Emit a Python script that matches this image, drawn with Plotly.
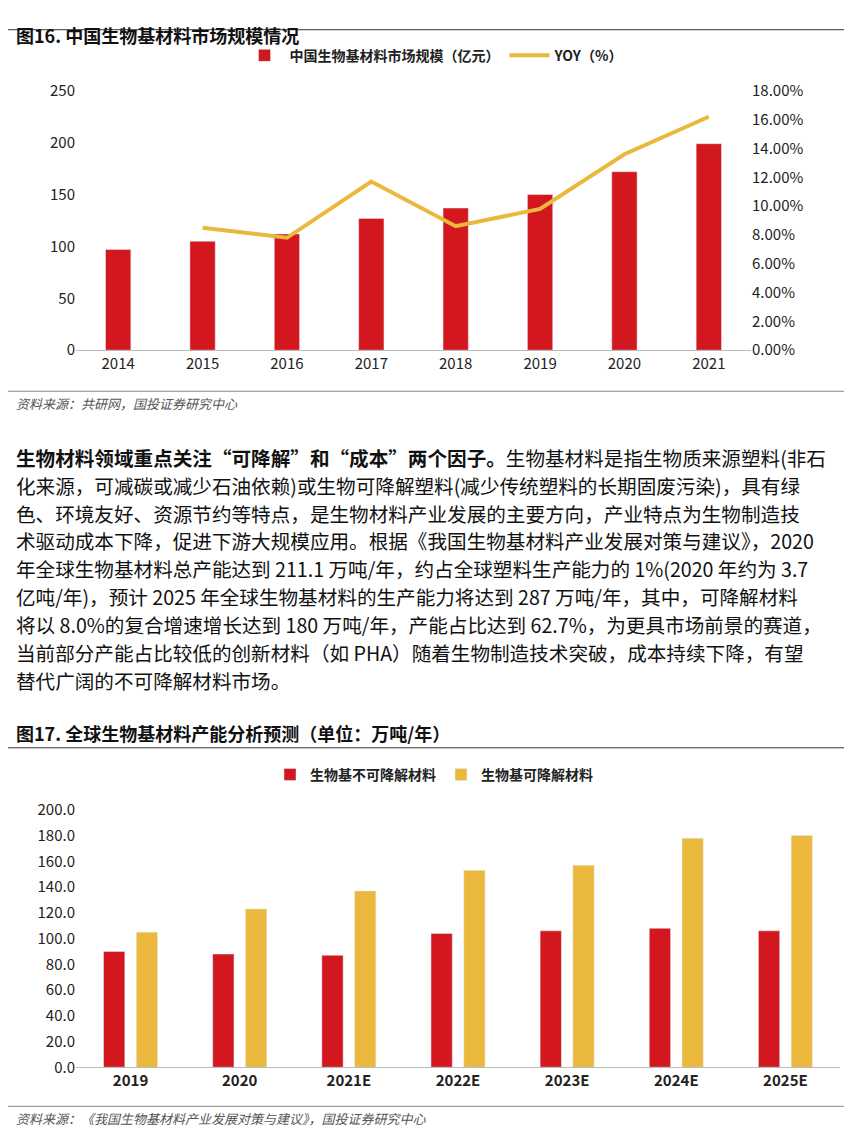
import plotly.graph_objects as go

years1 = ["2014","2015","2016","2017","2018","2019","2020","2021"]
market = [97, 105, 112, 127, 137, 150, 172, 199]
yoy_years = ["2015","2016","2017","2018","2019","2020","2021"]
yoy = [0.085, 0.078, 0.117, 0.086, 0.098, 0.136, 0.162]

years2 = ["2019","2020","2021E","2022E","2023E","2024E","2025E"]
non_deg = [90, 88, 87, 104, 106, 108, 106]
deg = [105, 123, 137, 153, 157, 178, 180]

RED = "#D2171E"
GOLD = "#E9B83C"
FONT = "Noto Sans CJK SC"
W, H = 852, 1133
def py(p):
    p2 = (p - 21.3) / 0.98
    return 1 - p2 / H
def px(p): return p / W

fig = go.Figure()
fig.add_bar(x=years1, y=market, name="中国生物基材料市场规模（亿元）", marker_color=RED,
            width=0.3, xaxis="x", yaxis="y", legend="legend")
fig.add_scatter(x=yoy_years, y=yoy, name="YOY（%）", mode="lines", line=dict(color=GOLD, width=4),
                xaxis="x", yaxis="y2", legend="legend")
fig.add_bar(x=years2, y=non_deg, name="生物基不可降解材料", marker_color=RED,
            xaxis="x3", yaxis="y3", legend="legend2")
fig.add_bar(x=years2, y=deg, name="生物基可降解材料", marker_color=GOLD,
            xaxis="x3", yaxis="y3", legend="legend2")

tf = dict(family=FONT, size=15, color="#222")
fig.update_layout(
    width=W, height=H, margin=dict(l=0, r=0, t=0, b=0),
    plot_bgcolor="white", paper_bgcolor="white", font=tf,
    bargap=0.4, bargroupgap=0.35, barmode="group",
    xaxis=dict(domain=[px(68), px(743)], anchor="y", showline=True, linecolor="#bbb",
               ticks="", tickfont=tf),
    yaxis=dict(domain=[py(351), py(92)], range=[0, 250], dtick=50, showgrid=False,
               zeroline=False, tickfont=tf),
    yaxis2=dict(overlaying="y", side="right", anchor="x", range=[0, 0.18], dtick=0.02,
                tickformat=".2%", showgrid=False, zeroline=False, tickfont=tf),
    xaxis3=dict(domain=[px(68), px(832)], anchor="y3", showline=True, linecolor="#bbb",
                ticks="", tickfont=dict(family=FONT, size=15, color="#222", weight="bold")),
    yaxis3=dict(domain=[py(1067), py(810)], range=[0, 200], dtick=20, tickformat=".1f",
                showgrid=False, zeroline=False, tickfont=tf),
    legend=dict(orientation="h", x=0.5, xanchor="center", y=py(57), yanchor="middle",
                font=dict(family=FONT, size=14, weight="bold"), itemwidth=40),
    legend2=dict(orientation="h", x=0.5, xanchor="center", y=py(775), yanchor="middle",
                 font=dict(family=FONT, size=14, weight="bold")),
)

ann = []
def text(x, y, s, size=17, color="#111", italic=False, yanchor="middle"):
    ann.append(dict(xref="paper", yref="paper", x=px(x), y=min(py(y), 1.0), text=s, showarrow=False,
                    xanchor="left", yanchor=yanchor,
                    font=dict(family=FONT, size=size, color=color, style="italic" if italic else "normal")))

text(6, 3, "<b>图16. 中国生物基材料市场规模情况</b>", size=18, yanchor="top")
text(6, 404, "资料来源：共研网，国投证券研究中心", size=13, color="#555", italic=True)
text(6, 733, "<b>图17. 全球生物基材料产能分析预测（单位：万吨/年）</b>", size=18)
text(6, 1118, "资料来源：《我国生物基材料产业发展对策与建议》，国投证券研究中心", size=13, color="#555", italic=True)

para = [
    "<b>生物材料领域重点关注“可降解”和“成本”两个因子。</b>生物基材料是指生物质来源塑料(非石",
    "化来源，可减碳或减少石油依赖)或生物可降解塑料(减少传统塑料的长期固废污染)，具有绿",
    "色、环境友好、资源节约等特点，是生物材料产业发展的主要方向，产业特点为生物制造技",
    "术驱动成本下降，促进下游大规模应用。根据《我国生物基材料产业发展对策与建议》，2020",
    "年全球生物基材料总产能达到 211.1 万吨/年，约占全球塑料生产能力的 1%(2020 年约为 3.7",
    "亿吨/年)，预计 2025 年全球生物基材料的生产能力将达到 287 万吨/年，其中，可降解材料",
    "将以 8.0%的复合增速增长达到 180 万吨/年，产能占比达到 62.7%，为更具市场前景的赛道，",
    "当前部分产能占比较低的创新材料（如 PHA）随着生物制造技术突破，成本持续下降，有望",
    "替代广阔的不可降解材料市场。",
]
for i, line in enumerate(para):
    text(6, 458 + i * 27.8, line, size=19.6)

def hline(y, color):
    return dict(type="line", xref="paper", yref="paper", x0=0, x1=1, y0=py(y), y1=py(y),
                line=dict(color=color, width=1))
fig.update_layout(annotations=ann, shapes=[hline(31, "#333"), hline(392, "#888"),
                                           hline(748, "#333"), hline(1106, "#888")])
fig.write_html("out.html")
